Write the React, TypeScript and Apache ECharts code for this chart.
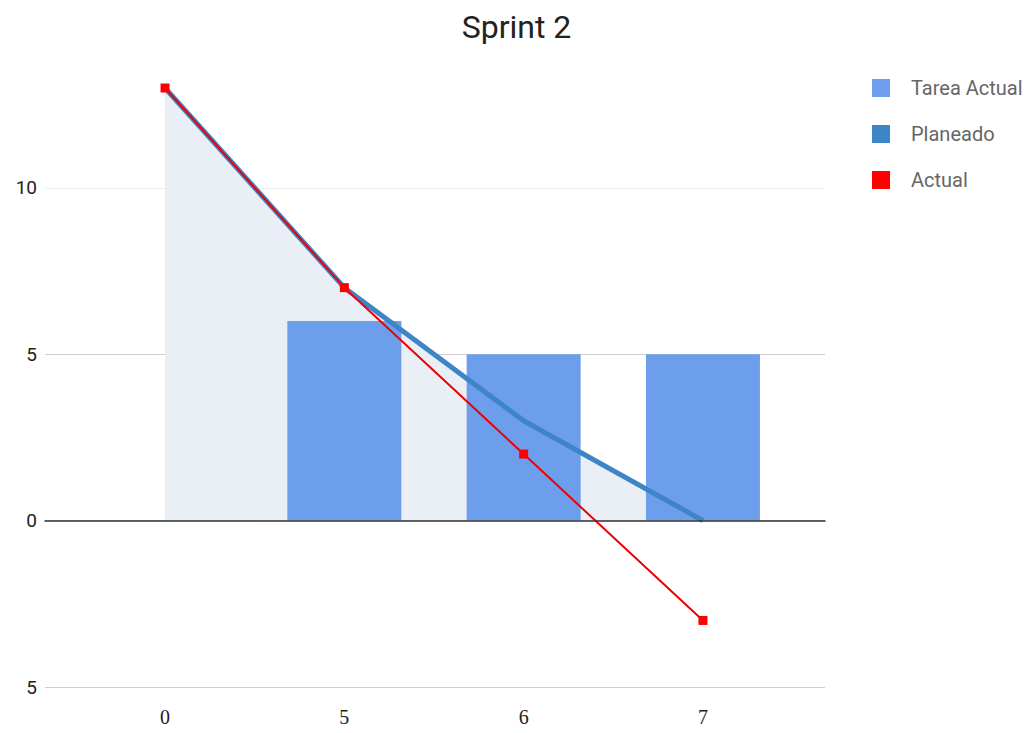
import React, { useEffect, useRef } from "react";
import * as echarts from "echarts";

const categories = ["0", "5", "6", "7"];
const tareaActual = [0, 6, 5, 5];
const planeado = [13, 7, 3, 0];
const actual = [13, 7, 2, -3];
const yMin = -5;
const yMax = 13;
const yInterval = 5;

export default function App() {
  const ref = useRef<HTMLDivElement>(null);
  useEffect(() => {
    if (!ref.current) return;
    const chart = echarts.init(ref.current, null, { renderer: "svg" });
    const top = 88;
    const bottom = 46;
    chart.setOption({
      animation: false,
      backgroundColor: "#ffffff",
      title: {
        text: "Sprint 2",
        left: "center",
        top: 6,
        textStyle: { fontFamily: "Roboto", fontSize: 32, fontWeight: "normal", color: "#222" },
      },
      legend: {
        orient: "vertical",
        left: 867,
        top: 73,
        itemWidth: 18,
        itemHeight: 18,
        itemGap: 26,
        icon: "rect",
        data: ["Tarea Actual", "Planeado", "Actual"],
        textStyle: {
          fontFamily: "Roboto",
          fontSize: 20,
          lineHeight: 18,
          color: "#666",
          padding: [0, 0, 0, 16],
        },
      },
      grid: [
        { left: 45, right: 208, top, bottom },
        { left: 75.4, right: 240.4, top, bottom },
      ],
      xAxis: [
        {
          type: "value",
          gridIndex: 0,
          min: 0,
          max: 1,
          axisLine: { show: true, onZero: true, lineStyle: { color: "#333", width: 1.5 } },
          axisTick: { show: false },
          axisLabel: { show: false },
          splitLine: { show: false },
          z: 5,
        },
        {
          type: "category",
          gridIndex: 1,
          data: categories,
          boundaryGap: true,
          position: "bottom",
          axisLine: { show: false, onZero: false },
          axisTick: { show: false },
          axisLabel: { fontFamily: "Liberation Serif", fontSize: 20, color: "#222", margin: 20 },
        },
      ],
      yAxis: [
        {
          type: "value",
          gridIndex: 0,
          min: yMin,
          max: yMax,
          interval: yInterval,
          axisLine: { show: false },
          axisTick: { show: false },
          axisLabel: {
            showMaxLabel: false,
            fontFamily: "Roboto",
            fontSize: 19,
            color: "#222",
            margin: 8,
            formatter: (v: number) => String(Math.abs(v)),
          },
          splitLine: {
            show: true,
            showMinLine: true,
            showMaxLine: false,
            lineStyle: { color: ["#cfcfcf", "#cfcfcf", "#cfcfcf", "#ececec"], width: 1 },
          },
        },
        {
          type: "value",
          gridIndex: 1,
          min: yMin,
          max: yMax,
          show: false,
          splitLine: { show: false },
        },
      ],
      series: [
        {
          name: "PlaneadoArea",
          type: "line",
          xAxisIndex: 1,
          yAxisIndex: 1,
          data: planeado,
          symbol: "none",
          lineStyle: { width: 0 },
          areaStyle: { color: "#e9eff5", opacity: 1 },
          z: 1,
        },
        {
          name: "Tarea Actual",
          type: "bar",
          xAxisIndex: 1,
          yAxisIndex: 1,
          data: tareaActual,
          barWidth: 114,
          itemStyle: { color: "#6d9eeb" },
          z: 2,
        },
        {
          name: "Planeado",
          type: "line",
          xAxisIndex: 1,
          yAxisIndex: 1,
          data: planeado,
          symbol: "none",
          color: "#3d85c6",
          lineStyle: { width: 5, color: "#3d85c6" },
          z: 3,
        },
        {
          name: "Actual",
          type: "line",
          xAxisIndex: 1,
          yAxisIndex: 1,
          data: actual,
          symbol: "rect",
          symbolSize: 9,
          color: "#ff0000",
          itemStyle: { color: "#ff0000" },
          lineStyle: { width: 2, color: "#ee0000" },
          z: 4,
        },
      ],
    });
    return () => chart.dispose();
  }, []);
  return (
    <div
      ref={ref}
      style={{ position: "fixed", left: 0, top: 0, width: "1033px", height: "733px" }}
    />
  );
}
